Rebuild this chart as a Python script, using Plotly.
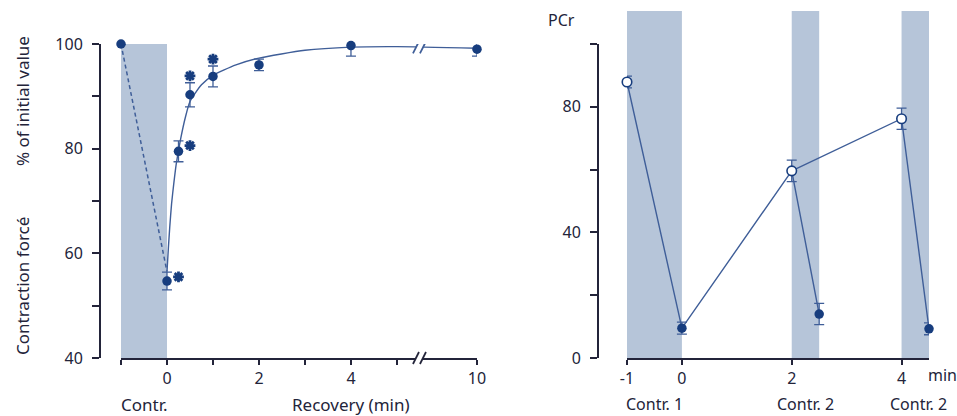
import plotly.graph_objects as go

# ---------------- data ----------------
# Left panel: contraction force (% of initial value) during recovery
rec_t = [-1, 0, 0.25, 0.5, 1, 2, 4, 10]
rec_v = [100, 54.7, 79.5, 90.3, 93.8, 96.0, 99.7, 99.0]
rec_err = [0, 1.7, 2.0, 2.3, 2.0, 1.1, 2.0, 1.3]

# significance asterisks (placed beside the points)
star_t = [0.25, 0.5, 0.5, 1]
star_v = [55.5, 80.6, 93.9, 97.1]

# dashed link between pre-contraction value and first recovery value
link_t = [-1, 0]
link_v = [100, 56.5]

# fitted recovery curve
fit_t = [0, 0.03, 0.06, 0.1, 0.15, 0.2, 0.3, 0.4, 0.5, 0.75, 1, 1.5, 2, 3, 4, 5, 10]
fit_v = [56.5, 61, 65, 69.5, 73.5, 77, 82, 86, 89, 92.2, 94, 96, 97.3, 98.8, 99.4, 99.5, 99.2]

left_ticks = [-1, 0, 1, 2, 3, 4, 5, 10]
left_ticktext = ["", "0", "", "2", "", "4", "", "10"]
left_yticks = [40, 50, 60, 70, 80, 90, 100]
left_yticktext = ["40", "", "60", "", "80", "", "100"]

# Right panel: PCr
rest_t = [-1, 2, 4]
rest_v = [87.9, 59.6, 76.2]
rest_err = [1.9, 3.4, 3.4]
contr_t = [0, 2.5, 4.5]
contr_v = [9.5, 14.0, 9.3]
contr_err = [1.9, 3.4, 1.9]

right_ticks = [-1, 0, 2, 4]
right_ticktext = ["-1", "0", "2", "4"]
right_yticks = [0, 20, 40, 60, 80, 100]
right_yticktext = ["0", "", "40", "", "80", ""]

contr_bands = [(-1, 0), (2, 2.5), (4, 4.5)]
contr_labels = ["Contr. 1", "Contr. 2", "Contr. 2"]
contr_label_t = [-0.5, 2.25, 4.3]

# ---------------- styling / layout helpers ----------------
W, H = 957, 416
SHADE = "#b6c5d9"
MARK = "#173d7e"
LINE = "#3f5e98"
AX = "#23243a"
TXT = "#23243a"
FONT = "Noto Sans"
FS = 16
FA = 17

BREAK = 5.5          # where the axis is broken (display units)
AFTER = 6.74         # display position of t = 10


def disp(t):
    """Map real time to display position with the axis break."""
    if t <= BREAK:
        return t
    return BREAK + (t - BREAK) * (AFTER - BREAK) / (10 - BREAK)


def px(x):
    return x / W


def py(y):
    return 1 - y / H


y_dom = [py(358), py(44)]

fig = go.Figure()

# ---- left panel traces
fig.add_trace(go.Scatter(x=link_t, y=link_v, mode="lines",
                         line=dict(color=LINE, width=1.5, dash="4px,3px"),
                         xaxis="x", yaxis="y", cliponaxis=False, hoverinfo="skip"))
fig.add_trace(go.Scatter(x=[disp(t) for t in fit_t], y=fit_v, mode="lines",
                         line=dict(color=LINE, width=1.4, shape="spline", smoothing=0.6),
                         xaxis="x", yaxis="y", cliponaxis=False, hoverinfo="skip"))
fig.add_trace(go.Scatter(x=[disp(t) for t in rec_t], y=rec_v, mode="markers",
                         marker=dict(color=MARK, size=9.5),
                         error_y=dict(type="data", array=rec_err, color=LINE, thickness=1.3, width=5),
                         xaxis="x", yaxis="y", cliponaxis=False))
fig.add_trace(go.Scatter(x=[disp(t) for t in star_t], y=star_v, mode="markers",
                         marker=dict(symbol="asterisk", size=9, color=MARK,
                                     line=dict(color=MARK, width=2.8)),
                         xaxis="x", yaxis="y", cliponaxis=False))

# ---- right panel traces
path_x = [rest_t[0], contr_t[0], rest_t[1], contr_t[1], None, rest_t[1], rest_t[2], contr_t[2]]
path_y = [rest_v[0], contr_v[0], rest_v[1], contr_v[1], None, rest_v[1], rest_v[2], contr_v[2]]
fig.add_trace(go.Scatter(x=path_x, y=path_y, mode="lines",
                         line=dict(color=LINE, width=1.4),
                         xaxis="x2", yaxis="y2", cliponaxis=False, hoverinfo="skip"))
fig.add_trace(go.Scatter(x=contr_t, y=contr_v, mode="markers",
                         marker=dict(color=MARK, size=9.5),
                         error_y=dict(type="data", array=contr_err, color=LINE, thickness=1.3, width=5),
                         xaxis="x2", yaxis="y2", cliponaxis=False))
fig.add_trace(go.Scatter(x=rest_t, y=rest_v, mode="markers",
                         marker=dict(color="white", size=9.5, line=dict(color=MARK, width=1.6)),
                         error_y=dict(type="data", array=rest_err, color=LINE, thickness=1.3, width=5),
                         xaxis="x2", yaxis="y2", cliponaxis=False))

shapes = []
# left shaded contraction
shapes.append(dict(type="rect", xref="x", yref="y", x0=-1, x1=0, y0=40, y1=100,
                   fillcolor=SHADE, line=dict(width=0), layer="below"))
# right shaded contraction bands
for a, b in contr_bands:
    shapes.append(dict(type="rect", xref="x2", yref="paper", x0=a, x1=b,
                       y0=y_dom[0], y1=py(11), fillcolor=SHADE,
                       line=dict(width=0), layer="below"))


def break_marks(xref, yref, xanchor, yanchor):
    out = [dict(type="rect", xref=xref, yref=yref, xsizemode="pixel", ysizemode="pixel",
                xanchor=xanchor, yanchor=yanchor, x0=-4, x1=3, y0=-3, y1=3,
                fillcolor="white", line=dict(width=0), layer="above")]
    for dx in (-7, 0):
        out.append(dict(type="line", xref=xref, yref=yref, xsizemode="pixel", ysizemode="pixel",
                        xanchor=xanchor, yanchor=yanchor, x0=dx, x1=dx + 6, y0=-6, y1=6,
                        line=dict(color=AX if yref == "paper" else LINE, width=1.8), layer="above"))
    return out


shapes += break_marks("x", "paper", BREAK, y_dom[0])
shapes += break_marks("x", "y", BREAK, 99.35)


def ann(text, x, y, xref="paper", angle=0, size=FA):
    return dict(text=text, x=x, y=y, xref=xref, yref="paper", textangle=angle,
                xanchor="center", yanchor="middle", showarrow=False,
                font=dict(size=size, color=TXT, family=FONT))


annotations = [
    ann("% of initial value", px(22), py(101), angle=-90),
    ann("Contraction forcé", px(22), py(286), angle=-90),
    ann("Contr.", -0.5, py(404), xref="x"),
    ann("Recovery (min)", 4, py(404), xref="x"),
    ann("min", px(942), py(375), size=FS),
    ann("PCr", px(561), py(20), size=FS),
]
for lab, t in zip(contr_labels, contr_label_t):
    annotations.append(ann(lab, t, py(404), xref="x2", size=FS))

axis_common = dict(showgrid=False, zeroline=False, showline=True, linecolor=AX, linewidth=2,
                   ticks="outside", tickcolor=AX, tickwidth=1.6, automargin=False,
                   tickfont=dict(size=FS, color=TXT, family=FONT), fixedrange=True)

fig.update_layout(
    width=W, height=H, margin=dict(l=0, r=0, t=0, b=0, pad=0, autoexpand=False),
    paper_bgcolor="white", plot_bgcolor="white", showlegend=False,
    font=dict(family=FONT, color=TXT),
    xaxis=dict(domain=[px(121), px(477)], range=[-1, AFTER], anchor="y",
               tickmode="array", tickvals=[disp(t) for t in left_ticks], ticktext=left_ticktext,
               ticklen=5, **axis_common),
    yaxis=dict(domain=y_dom, range=[40, 100], anchor="free", position=px(100),
               tickmode="array", tickvals=left_yticks, ticktext=left_yticktext,
               ticklen=7, ticklabelstandoff=6, **axis_common),
    xaxis2=dict(domain=[px(627), px(929)], range=[-1, 4.5], anchor="y2",
                tickmode="array", tickvals=right_ticks, ticktext=right_ticktext,
                ticklen=5, **axis_common),
    yaxis2=dict(domain=y_dom, range=[0, 100], anchor="free", position=px(598),
                tickmode="array", tickvals=right_yticks, ticktext=right_yticktext,
                ticklen=7, ticklabelstandoff=6, **axis_common),
    shapes=shapes, annotations=annotations,
)

fig.write_html("out.html", config={"displayModeBar": False},
               post_script="document.body.style.margin='0';document.body.style.padding='0';")
